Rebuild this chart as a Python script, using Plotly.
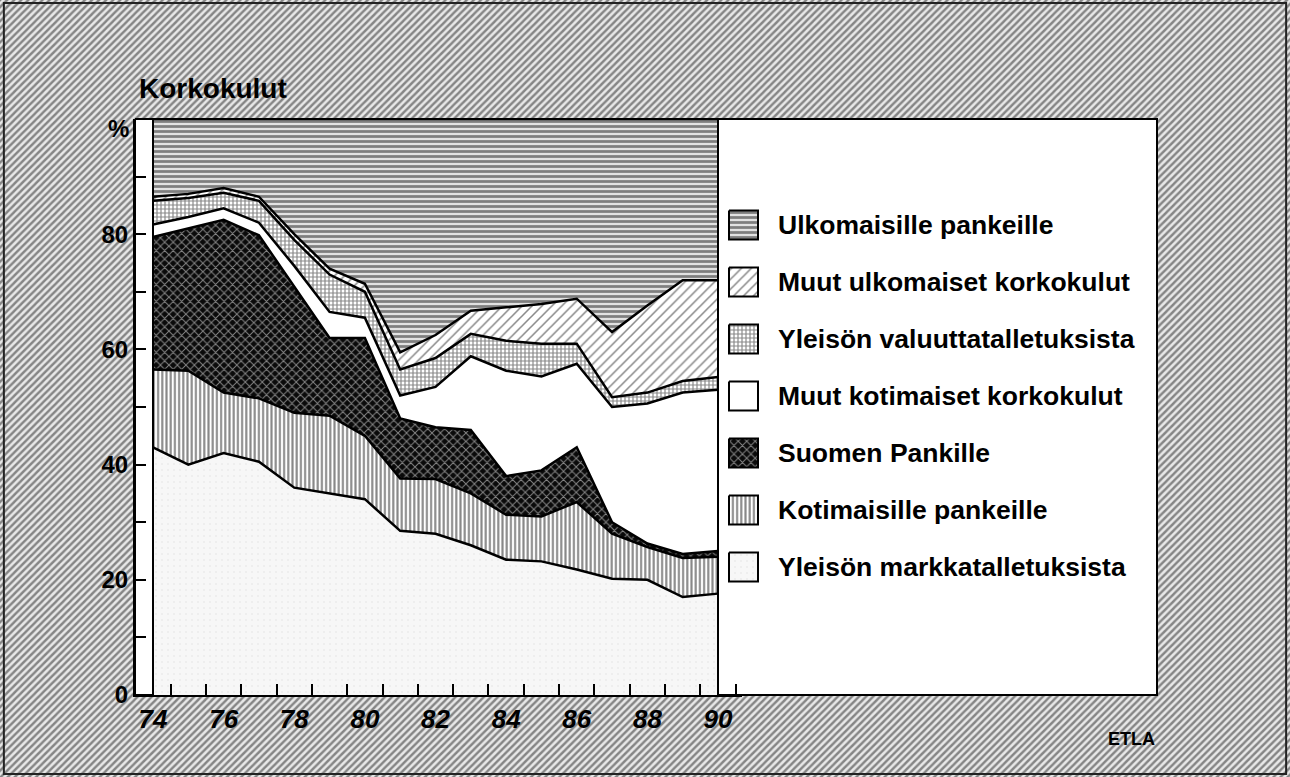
import plotly.graph_objects as go

# ---------------- data ----------------
years = [74, 75, 76, 77, 78, 79, 80, 81, 82, 83, 84, 85, 86, 87, 88, 89, 90]
year_ticks = [74, 76, 78, 80, 82, 84, 86, 88, 90]
year_labels = ["74", "76", "78", "80", "82", "84", "86", "88", "90"]

# stacked shares, %, bottom -> top
yleison_markka = [43.0, 40.0, 42.0, 40.5, 36.0, 35.0, 34.0, 28.5, 28.0, 26.0, 23.5, 23.2, 21.8, 20.2, 20.0, 17.0, 17.6]
kotimaisille_pankeille = [13.5, 16.3, 10.5, 11.0, 13.0, 13.5, 11.0, 9.1, 9.5, 9.0, 7.8, 7.8, 11.7, 7.8, 5.7, 6.8, 6.4]
suomen_pankille = [23.0, 24.7, 30.0, 28.3, 22.0, 13.5, 17.0, 10.4, 9.0, 11.0, 6.7, 8.0, 9.5, 2.0, 0.6, 0.7, 1.0]
muut_kotimaiset = [2.2, 2.0, 2.0, 2.2, 3.5, 4.5, 3.5, 4.0, 7.0, 12.8, 18.3, 16.3, 14.5, 20.0, 24.3, 28.0, 28.0]
yleison_valuutta = [4.1, 3.3, 2.7, 3.8, 4.5, 6.5, 4.5, 4.5, 5.0, 3.9, 5.2, 5.7, 3.5, 1.7, 1.9, 2.0, 2.2]
muut_ulkomaiset = [0.7, 0.7, 0.8, 0.7, 1.0, 1.0, 1.4, 3.0, 4.0, 4.0, 5.8, 6.9, 7.8, 11.3, 15.1, 17.5, 16.8]
ulkomaisille_pankeille = [13.5, 13.0, 12.0, 13.5, 20.0, 26.0, 28.6, 40.5, 37.5, 33.3, 32.7, 32.1, 31.2, 37.0, 32.4, 28.0, 28.0]

series_names = [
    "Yleisön markkatalletuksista",
    "Kotimaisille pankeille",
    "Suomen Pankille",
    "Muut kotimaiset korkokulut",
    "Yleisön valuuttatalletuksista",
    "Muut ulkomaiset korkokulut",
    "Ulkomaisille pankeille",
]
series_values = [yleison_markka, kotimaisille_pankeille, suomen_pankille, muut_kotimaiset,
                 yleison_valuutta, muut_ulkomaiset, ulkomaisille_pankeille]

y_tickvals = [0, 10, 20, 30, 40, 50, 60, 70, 80, 90, 100]
y_ticktext = ["0", "", "20", "", "40", "", "60", "", "80", "", ""]

# ---------------- styles ----------------
FONT = "Liberation Sans, Arial, sans-serif"
styles = [
    dict(fillcolor="#f4f4f4", pattern=dict(shape=".", size=6, solidity=0.05, fgcolor="#c8c8c8", bgcolor="#f7f7f7")),
    dict(fillcolor="white", pattern=dict(shape="|", size=4.2, solidity=0.5, fgcolor="#111111", bgcolor="white")),
    dict(fillcolor="black", pattern=dict(shape="x", size=6, solidity=0.3, fgcolor="white", bgcolor="#0a0a0a")),
    dict(fillcolor="white", pattern=None),
    dict(fillcolor="white", pattern=dict(shape="+", size=4, solidity=0.5, fgcolor="#111111", bgcolor="white")),
    dict(fillcolor="white", pattern=dict(shape="/", size=7, solidity=0.22, fgcolor="#111111", bgcolor="white")),
    dict(fillcolor="#888888", pattern=dict(shape="-", size=5, solidity=0.55, fgcolor="#1a1a1a", bgcolor="#e2e2e2")),
]

# ---------------- layout geometry (pixels) ----------------
W, H = 1290, 777
PANEL_L, PANEL_T, PANEL_R, PANEL_B = 135, 119, 1157, 695
DATA_L, DATA_R, AX_R = 153, 718, 742
px_per_year = (DATA_R - DATA_L) / (years[-1] - years[0])
x_lo = years[0] - (DATA_L - PANEL_L) / px_per_year
x_hi = years[0] + (AX_R - DATA_L) / px_per_year

fig = go.Figure()

# background (pixel-coordinate subplot x/y)
fig.add_trace(go.Scatter(
    x=[0, W, W, 0, 0], y=[0, 0, H, H, 0], mode="none", fill="toself",
    fillcolor="#e0e0e0",
    fillpattern=dict(shape="/", size=5, solidity=0.48, fgcolor="#222222", bgcolor="#e8e8e8"),
    hoverinfo="skip", showlegend=False, xaxis="x", yaxis="y"))
# white panel
fig.add_trace(go.Scatter(
    x=[PANEL_L, PANEL_R, PANEL_R, PANEL_L, PANEL_L], y=[PANEL_T, PANEL_T, PANEL_B, PANEL_B, PANEL_T],
    mode="lines", fill="toself", fillcolor="white", line=dict(color="black", width=2),
    hoverinfo="skip", showlegend=False, xaxis="x", yaxis="y"))

# legend swatches (top row = top of stack)
LEG_Y0, LEG_DY, SW_X0, SW = 225, 57, 729, 29
annotations = []
for row, idx in enumerate(range(len(series_names) - 1, -1, -1)):
    cy = LEG_Y0 + row * LEG_DY
    st = styles[idx]
    kw = dict(fillcolor=st["fillcolor"])
    if st["pattern"]:
        kw["fillpattern"] = st["pattern"]
    fig.add_trace(go.Scatter(
        x=[SW_X0, SW_X0 + SW, SW_X0 + SW, SW_X0, SW_X0],
        y=[cy - SW / 2, cy - SW / 2, cy + SW / 2, cy + SW / 2, cy - SW / 2],
        mode="lines", fill="toself", line=dict(color="black", width=2),
        hoverinfo="skip", showlegend=False, xaxis="x", yaxis="y", **kw))
    annotations.append(dict(
        x=776, y=cy, xref="x", yref="y", text=series_names[idx],
        showarrow=False, xanchor="left", yanchor="middle",
        font=dict(family=FONT, size=26.5, color="black", weight="bold")))

# main stacked area chart
for idx, (name, vals) in enumerate(zip(series_names, series_values)):
    st = styles[idx]
    kw = dict(fillcolor=st["fillcolor"])
    if st["pattern"]:
        kw["fillpattern"] = st["pattern"]
    fig.add_trace(go.Scatter(
        x=years, y=vals, name=name, stackgroup="one", mode="lines",
        line=dict(color="black", width=2.5), xaxis="x2", yaxis="y2",
        showlegend=False, **kw))

annotations += [
    dict(x=137, y=88, xref="x", yref="y", text="Korkokulut", showarrow=False,
         xanchor="left", yanchor="middle", font=dict(family=FONT, size=28, color="black", weight="bold")),
    dict(x=131, y=128, xref="x", yref="y", text="%", showarrow=False,
         xanchor="right", yanchor="middle", font=dict(family=FONT, size=24, color="black", weight="bold")),
    dict(x=1157, y=739, xref="x", yref="y", text="ETLA", showarrow=False,
         xanchor="right", yanchor="middle", font=dict(family=FONT, size=18, color="black", weight="bold")),
]

shapes = [
    dict(type="line", xref="x2", yref="y2", x0=years[0], x1=years[0], y0=0, y1=100,
         line=dict(color="black", width=2), layer="above"),
    dict(type="line", xref="x2", yref="y2", x0=years[-1], x1=years[-1], y0=0, y1=100,
         line=dict(color="black", width=2), layer="above"),
    dict(type="rect", xref="paper", yref="paper", x0=0.003, x1=0.997, y0=0.004, y1=0.996,
         line=dict(color="#222222", width=2), fillcolor="rgba(0,0,0,0)", layer="above"),
]

fig.update_layout(
    width=W, height=H, autosize=False,
    margin=dict(l=0, r=0, t=0, b=0, pad=0, autoexpand=False),
    paper_bgcolor="#e0e0e0", plot_bgcolor="rgba(0,0,0,0)", showlegend=False,
    annotations=annotations, shapes=shapes,
    xaxis=dict(domain=[0, 1], range=[0, W], visible=False, fixedrange=True, automargin=False),
    yaxis=dict(domain=[0, 1], range=[H, 0], visible=False, fixedrange=True, automargin=False),
    xaxis2=dict(domain=[PANEL_L / W, AX_R / W], range=[x_lo, x_hi], anchor="y2", automargin=False,
                showline=True, linecolor="black", linewidth=2, showgrid=False, zeroline=False,
                tickvals=year_ticks, ticktext=year_labels, ticks="",
                tickfont=dict(family=FONT, size=26, color="black", weight="bold", style="italic"),
                minor=dict(tickvals=[y + 0.5 for y in years], ticks="inside", ticklen=11,
                           tickwidth=2, tickcolor="black", showgrid=False),
                fixedrange=True),
    yaxis2=dict(domain=[1 - PANEL_B / H, 1 - PANEL_T / H], range=[0, 100], anchor="x2", automargin=False,
                showline=True, linecolor="black", linewidth=2, showgrid=False, zeroline=False,
                tickvals=y_tickvals, ticktext=y_ticktext, ticks="inside", ticklen=11,
                tickwidth=2, tickcolor="black",
                tickfont=dict(family=FONT, size=24, color="black", weight="bold"),
                fixedrange=True),
)

fig.write_html("out.html", config={"displayModeBar": False, "responsive": False},
               post_script="document.body.style.margin='0px';document.body.style.overflow='hidden';"
                           "document.documentElement.style.overflow='hidden';")
